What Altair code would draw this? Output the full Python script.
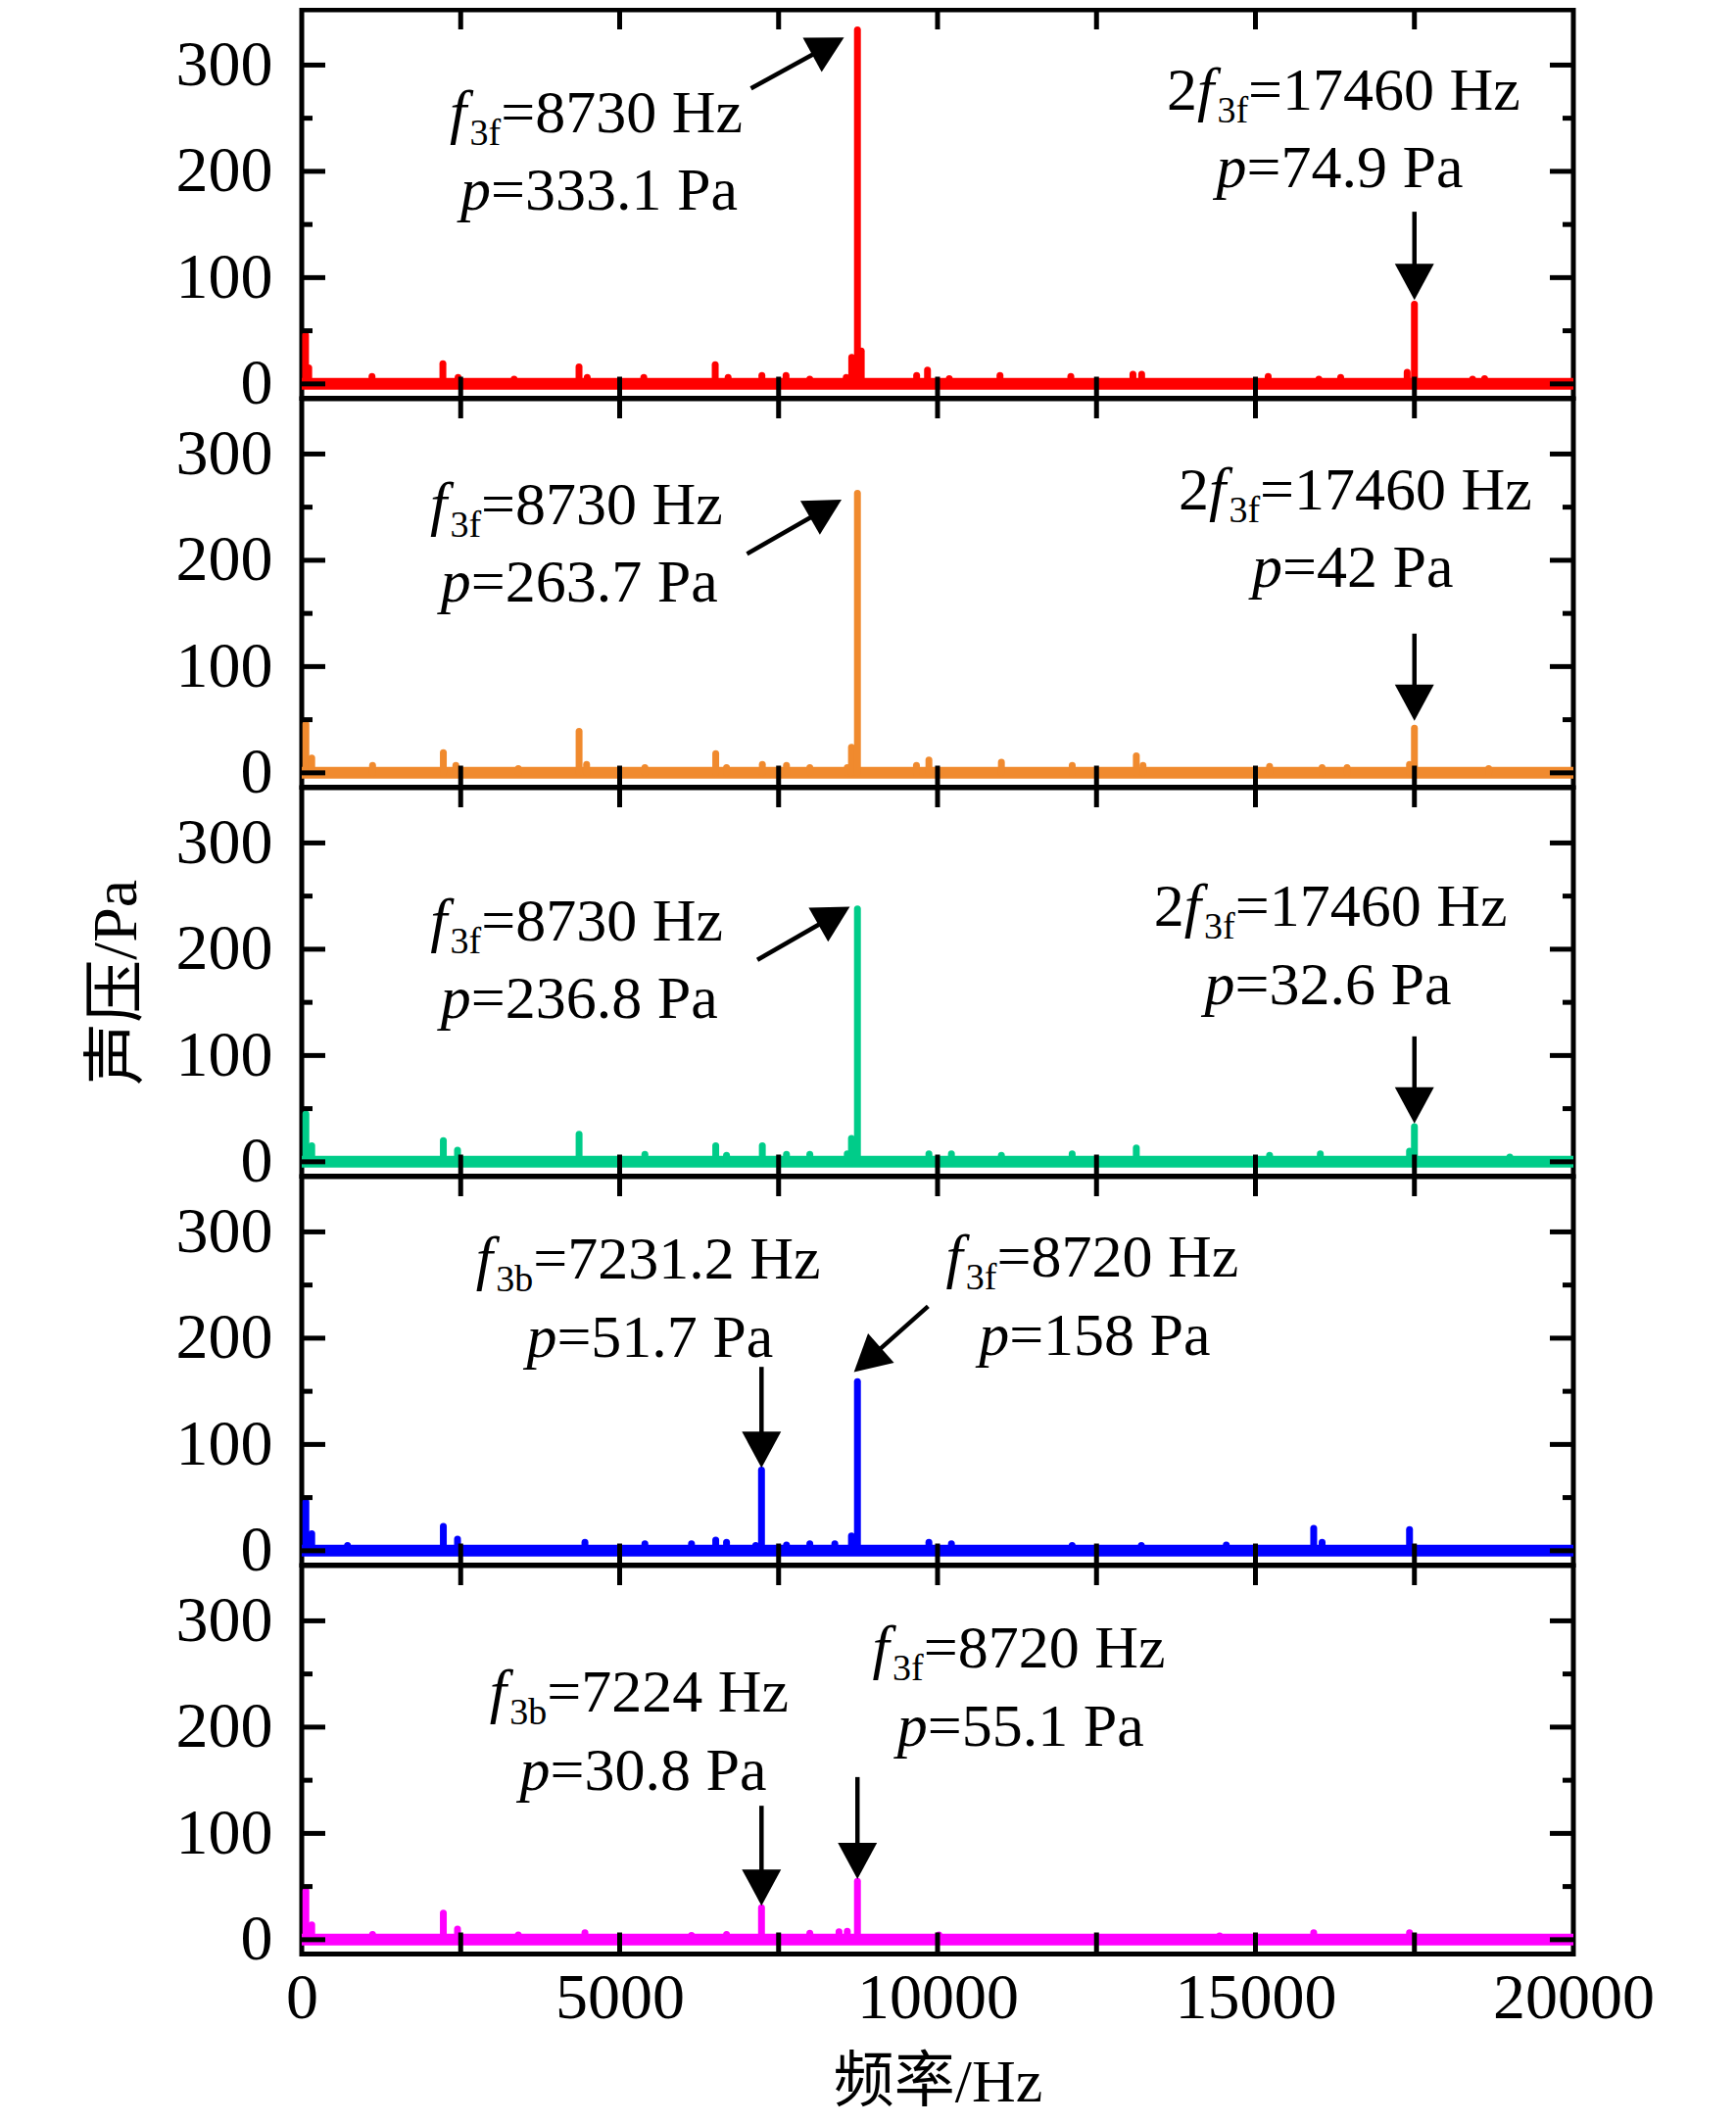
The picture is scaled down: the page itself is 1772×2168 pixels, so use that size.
import math
import altair as alt
import pandas as pd

# ---------------- layout / scales ----------------
W = 1298
H = 396.5
X_DOMAIN = [0, 20000]
Y_DOMAIN = [-13.5, 352]
PX_HZ = W / (X_DOMAIN[1] - X_DOMAIN[0])
PX_PA = H / (Y_DOMAIN[1] - Y_DOMAIN[0])

FONT = "Liberation Serif"
CJK_FONT = "Liberation Serif, Noto Sans CJK SC"
FS = 62          # annotation font size
SUB_FS = 38      # subscript font size
SUB_DROP = 13    # subscript baseline drop (px)
HEAD_SIZE = 1369 # arrow head symbol size (path in [-1, 1] box)
HEAD_PATH = "M0,-1L-1.08,1L1.08,1Z"

COLORS = ["#FF0000", "#F08A2E", "#00CC89", "#0000FF", "#FF00FF"]

Y_TICKS_MAJOR = [0, 100, 200, 300]
Y_TICKS_MINOR = [50, 150, 250]
X_TICKS = [2500, 5000, 7500, 10000, 12500, 15000, 17500]
X_LABELS = [0, 5000, 10000, 15000, 20000]

# ---------------- spectra (peak frequency / peak pressure) ----------------
p1_f = [60, 110, 1105, 2220, 2459, 3340, 4361, 4490, 5380, 6503, 6706, 7237, 7617, 7990,
        8564, 8650, 8740, 8800, 9671, 9842, 10184, 10982, 12096, 13073, 13210, 15200,
        15997, 16340, 17386, 17500, 18415, 18604]
p1_p = [46, 15, 7, 19, 6, 4.5, 16, 6, 6, 18, 6, 8, 8, 4.5,
        6, 25, 333, 31, 8, 13, 5, 8, 7, 9, 9, 7,
        4.5, 6, 11, 75, 4.5, 5]

p2_f = [65, 157, 1114, 2227, 2424, 3406, 4362, 4480, 5397, 6511, 6681, 7244, 7624, 7991,
        8580, 8646, 8740, 9668, 9864, 11004, 12118, 13126, 13231, 15222, 16048, 16441,
        17423, 17500, 18668]
p2_p = [46, 14, 7, 19, 7, 4, 39, 8, 5, 18, 5, 8, 7, 5,
        5, 24, 263, 7, 12, 10, 7, 16, 7, 6, 5, 5,
        8, 42, 4]

p3_f = [65, 157, 2227, 2450, 4362, 5397, 6511, 6681, 7244, 7624, 7991, 8580, 8646, 8740,
        9864, 10218, 11004, 12117, 13126, 15222, 16020, 17423, 17500, 19000]
p3_p = [45, 15, 20, 11, 26, 7, 15, 6, 15, 7, 7, 7.5, 22, 238,
        7.5, 7.5, 6, 7.5, 13, 6, 7.5, 10, 33, 4.5]

p4_f = [65, 157, 720, 2227, 2450, 4454, 5397, 6130, 6511, 6681, 7140, 7231, 7624, 7991,
        8384, 8646, 8740, 9864, 10218, 12117, 13205, 14541, 15916, 16048, 17423]
p4_p = [46, 16, 5, 23, 11, 8, 6.5, 6.5, 10, 8, 5, 76, 5.5, 6.5,
        6.5, 14, 159, 8, 6.5, 5, 5, 5.5, 21, 8, 20]

p5_f = [65, 157, 1114, 2227, 2450, 3406, 4454, 6130, 6681, 7231, 7991, 8450, 8580, 8740,
        10022, 14436, 15916, 17423]
p5_p = [46, 14, 5, 25, 10, 4.5, 6.5, 4, 5, 30, 6, 7.5, 8, 55,
        4.5, 3.5, 6.5, 6.5]

# ---------------- annotations ----------------
# (centre frequency, baseline pressure, [(text, style)]) ; style: n normal, i italic, s subscript
p1_text = [
    (4630, 237, [("f", "i"), ("3f", "s"), ("=8730 Hz", "n")]),
    (4676, 164, [("p", "i"), ("=333.1 Pa", "n")]),
    (16385, 258, [("2", "n"), ("f", "i"), ("3f", "s"), ("=17460 Hz", "n")]),
    (16324, 185, [("p", "i"), ("=74.9 Pa", "n")]),
]
p2_text = [
    (4320, 234, [("f", "i"), ("3f", "s"), ("=8730 Hz", "n")]),
    (4365, 161, [("p", "i"), ("=263.7 Pa", "n")]),
    (16570, 248, [("2", "n"), ("f", "i"), ("3f", "s"), ("=17460 Hz", "n")]),
    (16530, 175, [("p", "i"), ("=42 Pa", "n")]),
]
p3_text = [
    (4323, 208, [("f", "i"), ("3f", "s"), ("=8730 Hz", "n")]),
    (4365, 135, [("p", "i"), ("=236.8 Pa", "n")]),
    (16180, 222, [("2", "n"), ("f", "i"), ("3f", "s"), ("=17460 Hz", "n")]),
    (16140, 148, [("p", "i"), ("=32.6 Pa", "n")]),
]
p4_text = [
    (5450, 256, [("f", "i"), ("3b", "s"), ("=7231.2 Hz", "n")]),
    (5476, 182.5, [("p", "i"), ("=51.7 Pa", "n")]),
    (12432, 258, [("f", "i"), ("3f", "s"), ("=8720 Hz", "n")]),
    (12471, 184, [("p", "i"), ("=158 Pa", "n")]),
]
p5_text = [
    (5306, 215, [("f", "i"), ("3b", "s"), ("=7224 Hz", "n")]),
    (5371, 141, [("p", "i"), ("=30.8 Pa", "n")]),
    (11279, 256, [("f", "i"), ("3f", "s"), ("=8720 Hz", "n")]),
    (11305, 182.5, [("p", "i"), ("=55.1 Pa", "n")]),
]

# arrows: (start f, start p, tip f, tip p)
p1_arrows = [(7065, 278, 8529, 326), (17500, 162, 17500, 79)]
p2_arrows = [(7003, 206, 8490, 257), (17500, 131, 17500, 49)]
p3_arrows = [(7166, 190, 8620, 240), (17500, 118, 17500, 36)]
p4_arrows = [(7231, 173, 7231, 78), (9851, 230, 8685, 168)]
p5_arrows = [(7231, 126, 7231, 32), (8740, 153, 8740, 57)]

# ---------------- helpers ----------------
WID_N = {"0": .5, "1": .5, "2": .5, "3": .5, "4": .5, "5": .5, "6": .5, "7": .5, "8": .5,
         "9": .5, "=": .564, " ": .25, ".": .25, "H": .722, "z": .444, "P": .556, "a": .444,
         "f": .333, "b": .5}
WID_I = {"f": .33, "p": .5}


def seg_width(text, style):
    if style == "i":
        return sum(WID_I.get(c, .5) for c in text) * FS
    fs = SUB_FS if style == "s" else FS
    return sum(WID_N.get(c, .5) for c in text) * fs


def text_rows(lines):
    rows = []
    for cf, bp, segs in lines:
        total = sum(seg_width(t, s) for t, s in segs)
        xpx = -total / 2
        for t, s in segs:
            p = bp - (SUB_DROP / PX_PA if s == "s" else 0)
            rows.append({"f": cf + xpx / PX_HZ, "p": p, "t": t, "style": s})
            xpx += seg_width(t, s)
    return pd.DataFrame(rows)


def arrow_frames(arrows):
    lines, heads = [], []
    h = math.sqrt(HEAD_SIZE) / 2   # tip distance from symbol centre
    for f0, p0, f1, p1 in arrows:
        dx = (f1 - f0) * PX_HZ
        dy = -(p1 - p0) * PX_PA
        L = math.hypot(dx, dy)
        ux, uy = dx / L, dy / L
        ang = math.degrees(math.atan2(ux, -uy)) % 360
        cf = f1 - h * ux / PX_HZ
        cp = p1 + h * uy / PX_PA
        lines.append({"f": f0, "p": p0, "f2": cf, "p2": cp})
        heads.append({"f": cf, "p": cp, "ang": ang})
    return pd.DataFrame(lines), pd.DataFrame(heads)


XS = alt.Scale(domain=X_DOMAIN, nice=False, zero=False)
YS = alt.Scale(domain=Y_DOMAIN, nice=False, zero=False)


def panel(idx, freqs, press, texts, arrows, color, y_title=None, bottom=False):
    if bottom:
        xax = alt.Axis(values=X_LABELS, ticks=False, domain=False, grid=False,
                       labelFont=FONT, labelFontSize=66, labelColor="black",
                       labelPadding=13, labelFlush=False, labelOverlap=False,
                       format="d", title="频率/Hz", titleFont=CJK_FONT,
                       titleFontSize=62, titleFontWeight="normal",
                       titleColor="black", titlePadding=23)
    else:
        xax = None
    yax = alt.Axis(values=Y_TICKS_MAJOR, ticks=False, domain=False, grid=False,
                   labelFont=FONT, labelFontSize=66, labelColor="black",
                   labelPadding=30, labelOverlap=False,
                   title=y_title if y_title else None, titleFont=CJK_FONT,
                   titleFontSize=64, titleFontWeight="normal", titleColor="black",
                   titlePadding=28)

    X = lambda fld: alt.X(f"{fld}:Q", scale=XS, axis=xax)
    Y = lambda fld: alt.Y(f"{fld}:Q", scale=YS, axis=yax)

    base_df = pd.DataFrame({"f": [X_DOMAIN[0]], "f2": [X_DOMAIN[1]], "p": [0]})
    spec_df = pd.DataFrame({"f": freqs, "p": press, "b": [0] * len(freqs)})
    txt_df = text_rows(texts)
    arr_df, head_df = arrow_frames(arrows)
    ymaj = pd.DataFrame({"p": Y_TICKS_MAJOR})
    ymin = pd.DataFrame({"p": Y_TICKS_MINOR})
    xt = pd.DataFrame({"f": X_TICKS})

    layers = [
        alt.Chart(base_df).mark_rule(color=color, strokeWidth=12).encode(
            x=X("f"), x2="f2", y=Y("p")),
        alt.Chart(spec_df).mark_rule(color=color, strokeWidth=7, strokeCap="round").encode(
            x=X("f"), y=Y("p"), y2="b"),
        alt.Chart(txt_df).transform_filter(alt.datum.style == "n").mark_text(
            font=FONT, fontSize=FS, align="left", baseline="alphabetic", color="black").encode(
            x=X("f"), y=Y("p"), text="t:N"),
        alt.Chart(txt_df).transform_filter(alt.datum.style == "i").mark_text(
            font=FONT, fontSize=FS, fontStyle="italic", align="left", baseline="alphabetic",
            color="black").encode(x=X("f"), y=Y("p"), text="t:N"),
        alt.Chart(txt_df).transform_filter(alt.datum.style == "s").mark_text(
            font=FONT, fontSize=SUB_FS, align="left", baseline="alphabetic",
            color="black").encode(x=X("f"), y=Y("p"), text="t:N"),
        alt.Chart(arr_df).mark_rule(color="black", strokeWidth=4.5).encode(
            x=X("f"), y=Y("p"), x2="f2", y2="p2"),
        alt.Chart(head_df).mark_point(shape=HEAD_PATH, filled=True, color="black",
                                      opacity=1, size=HEAD_SIZE, strokeWidth=0).encode(
            x=X("f"), y=Y("p"), angle=alt.Angle("ang:Q", scale=None)),
        # inward ticks
        alt.Chart(ymaj).mark_rule(color="black", strokeWidth=5).encode(
            y=Y("p"), x=alt.value(0), x2=alt.value(24)),
        alt.Chart(ymin).mark_rule(color="black", strokeWidth=5).encode(
            y=Y("p"), x=alt.value(0), x2=alt.value(11)),
        alt.Chart(ymaj).mark_rule(color="black", strokeWidth=5).encode(
            y=Y("p"), x=alt.value(W), x2=alt.value(W - 24)),
        alt.Chart(ymin).mark_rule(color="black", strokeWidth=5).encode(
            y=Y("p"), x=alt.value(W), x2=alt.value(W - 11)),
        alt.Chart(xt).mark_rule(color="black", strokeWidth=5).encode(
            x=X("f"), y=alt.value(0), y2=alt.value(20)),
        alt.Chart(xt).mark_rule(color="black", strokeWidth=5).encode(
            x=X("f"), y=alt.value(H), y2=alt.value(H - 22)),
    ]
    return alt.layer(*layers).properties(width=W, height=H)


panels = [
    panel(0, p1_f, p1_p, p1_text, p1_arrows, COLORS[0]),
    panel(1, p2_f, p2_p, p2_text, p2_arrows, COLORS[1]),
    panel(2, p3_f, p3_p, p3_text, p3_arrows, COLORS[2], y_title="声压/Pa"),
    panel(3, p4_f, p4_p, p4_text, p4_arrows, COLORS[3]),
    panel(4, p5_f, p5_p, p5_text, p5_arrows, COLORS[4], bottom=True),
]

chart = alt.vconcat(*panels, spacing=0, bounds="flush").properties(
    padding={"left": 76, "top": -3, "right": 5, "bottom": 5},
    background="white",
).configure_view(stroke="black", strokeWidth=5)

chart.save("out.html", embed_options={"renderer": "svg", "actions": False})
